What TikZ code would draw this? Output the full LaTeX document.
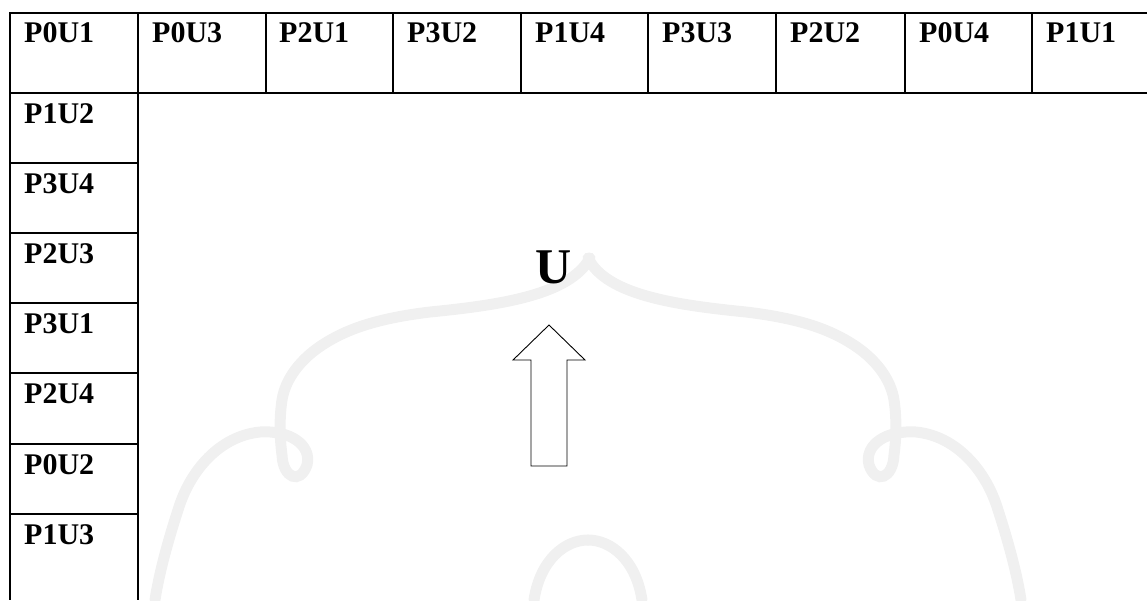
\documentclass[tikz,border=0pt]{standalone}
\usepackage{fontspec}
\setmainfont{Liberation Serif}
\begin{document}
\begin{tikzpicture}[x=1pt,y=-1pt,
  grid/.style={line width=2pt,black},
  lbl/.style={anchor=base west,inner sep=0pt,font=\fontsize{30}{36}\selectfont\bfseries},
  big/.style={anchor=base,inner sep=0pt,font=\fontsize{50}{60}\selectfont\bfseries},
  wm/.style={line width=11pt,color=black!6,line cap=round},
  arrowshape/.style={draw=black,line width=0.9pt,fill=white}]
\useasboundingbox (0,0) rectangle (1147,600);
% faint watermark
\begin{scope}
\draw[wm] (590,258) .. controls (570,295) and (500,305) .. (430,312)
  .. controls (380,318) and (350,328) .. (327,342)
  .. controls (300,358) and (285,380) .. (282,400)
  .. controls (279,420) and (280,440) .. (282,455)
  .. controls (283,478) and (300,485) .. (307,465)
  .. controls (312,445) and (290,430) .. (260,432)
  .. controls (220,436) and (190,470) .. (178,510)
  .. controls (165,550) and (158,580) .. (155,600);
\draw[wm] (534,600) .. controls (540,560) and (565,540) .. (588,540);
\end{scope}
\begin{scope}[xshift=1176pt,xscale=-1]
\draw[wm] (588,258) .. controls (570,295) and (500,305) .. (430,312)
  .. controls (380,318) and (350,328) .. (327,342)
  .. controls (300,358) and (285,380) .. (282,400)
  .. controls (279,420) and (280,440) .. (282,455)
  .. controls (283,478) and (300,485) .. (307,465)
  .. controls (312,445) and (290,430) .. (260,432)
  .. controls (220,436) and (190,470) .. (178,510)
  .. controls (165,550) and (158,580) .. (155,600);
\draw[wm] (534,600) .. controls (540,560) and (565,540) .. (588,540);
\end{scope}
% grid
\draw[grid] (1147,13) -- (10,13) -- (10,600);
\draw[grid] (10,93) -- (1147,93);
\draw[grid] (138,13) -- (138,600);
\foreach \x in {266,393,521,648,776,905,1032} \draw[grid] (\x,13) -- (\x,93);
\foreach \y in {163,233,303,373,444,514} \draw[grid] (10,\y) -- (138,\y);
% top row labels
\node[lbl] (t1) at (24,42) {P0U1};
\node[lbl] (t2) at (152,42) {P0U3};
\node[lbl] (t3) at (279,42) {P2U1};
\node[lbl] (t4) at (407,42) {P3U2};
\node[lbl] (t5) at (535,42) {P1U4};
\node[lbl] (t6) at (662,42) {P3U3};
\node[lbl] (t7) at (790,42) {P2U2};
\node[lbl] (t8) at (919,42) {P0U4};
\node[lbl] (t9) at (1046,42) {P1U1};
% left column labels
\node[lbl] (l1) at (24,123) {P1U2};
\node[lbl] (l2) at (24,193) {P3U4};
\node[lbl] (l3) at (24,263) {P2U3};
\node[lbl] (l4) at (24,333) {P3U1};
\node[lbl] (l5) at (24,403) {P2U4};
\node[lbl] (l6) at (24,474) {P0U2};
\node[lbl] (l7) at (24,544) {P1U3};
% U and arrow
\node[big] (u) at (554,283) {U};
\draw[arrowshape] (549,325) -- (585,360) -- (567,360) -- (567,466) -- (531,466) -- (531,360) -- (513,360) -- cycle;
\end{tikzpicture}
\end{document}
